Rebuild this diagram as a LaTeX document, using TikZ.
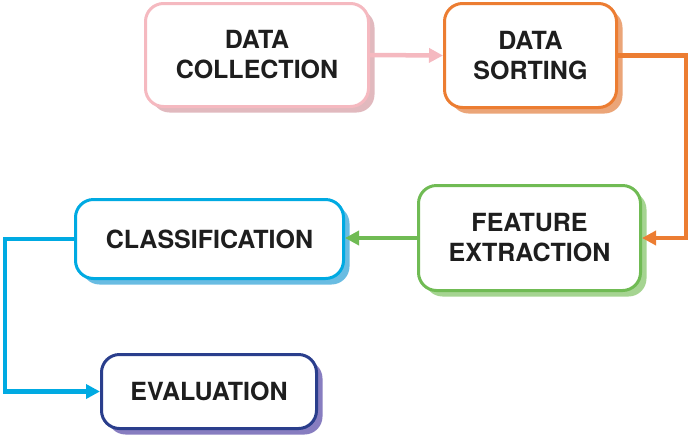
\documentclass[tikz,border=0pt]{standalone}
\usepackage{fontspec}
\setmainfont{TeX Gyre Heros}
\usetikzlibrary{arrows.meta,shadows,calc}
\definecolor{cpink}{RGB}{245,185,192}
\definecolor{cpinksh}{RGB}{225,185,190}
\definecolor{corange}{RGB}{236,125,50}
\definecolor{corangesh}{RGB}{235,165,120}
\definecolor{cgreen}{RGB}{112,187,84}
\definecolor{cgreensh}{RGB}{165,212,145}
\definecolor{cblue}{RGB}{0,170,226}
\definecolor{cbluesh}{RGB}{105,188,226}
\definecolor{cnavy}{RGB}{42,62,140}
\definecolor{cnavysh}{RGB}{135,125,192}
\definecolor{ctext}{RGB}{30,30,30}
\tikzset{
  stagebox/.style={draw=#1, line width=3pt, rounded corners=18pt, fill=white,
    align=center, font=\fontsize{25}{30}\selectfont\bfseries, text=ctext,
    inner sep=0pt},
  shad/.style={drop shadow={shadow xshift=6pt, shadow yshift=-6pt, fill=#1, opacity=1}},
  flowline/.style={draw=#1, line width=4.5pt, -{Triangle[length=14pt,width=14pt]}},
}
\begin{document}
\begin{tikzpicture}[x=1pt,y=-1pt]
\useasboundingbox (0,0) rectangle (692,440);
\node[stagebox=cpink, shad=cpinksh, minimum width=223pt, minimum height=103pt] (dc) at (257,55) {DATA\\COLLECTION};
\node[stagebox=corange, shad=corangesh, minimum width=172pt, minimum height=104pt] (ds) at (530.5,55.5) {DATA\\SORTING};
\node[stagebox=cgreen, shad=cgreensh, minimum width=222pt, minimum height=105pt] (fe) at (529.5,238) {FEATURE\\EXTRACTION};
\node[stagebox=cblue, shad=cbluesh, minimum width=268pt, minimum height=79pt] (cl) at (209.5,239) {CLASSIFICATION};
\node[stagebox=cnavy, shad=cnavysh, minimum width=215pt, minimum height=74pt] (ev) at (209,391.5) {EVALUATION};
\path[flowline=cpink] (dc.east) -- (ds.west);
\path[flowline=corange] (ds.east) -- ++(68,0) |- (fe.east);
\path[flowline=cgreen] (fe.west) -- (fe.west -| cl.east);
\path[flowline=cblue] (cl.west) -- ++(-69,0) |- (ev.west);
\end{tikzpicture}
\end{document}
